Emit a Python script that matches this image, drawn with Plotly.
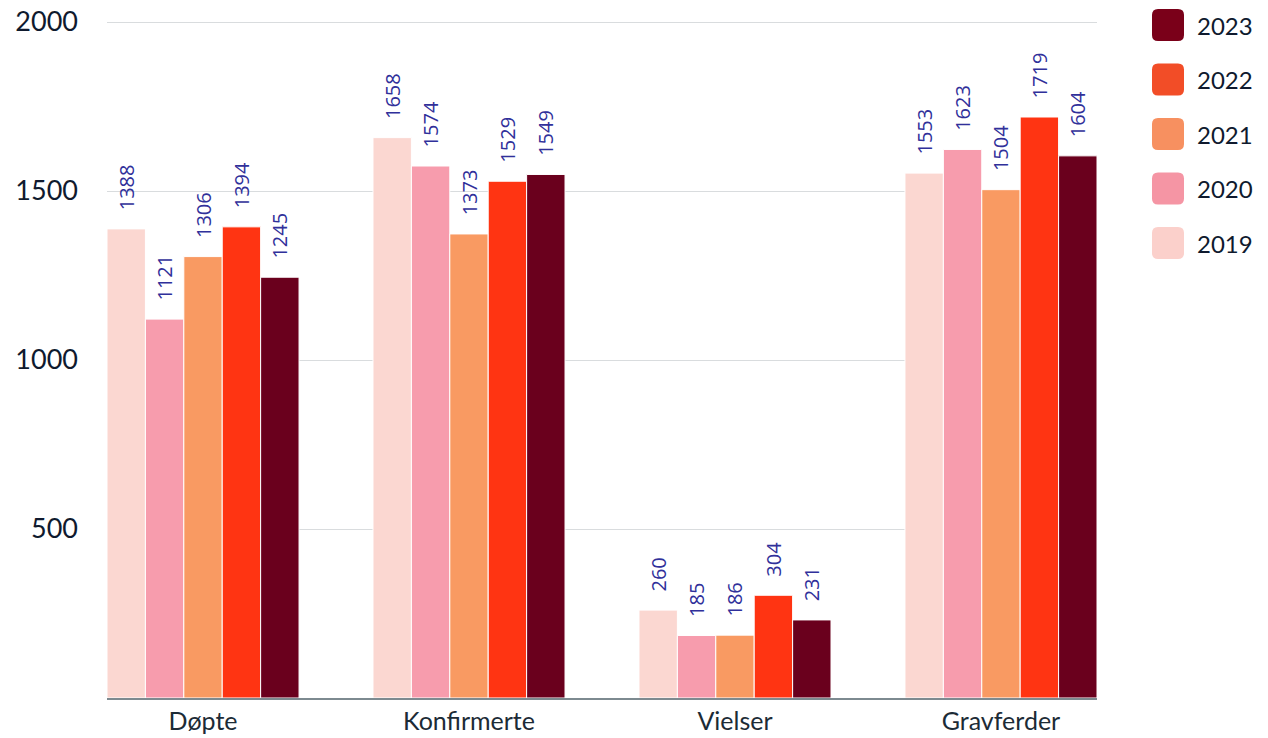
import plotly.graph_objects as go

categories = ["Døpte", "Konfirmerte", "Vielser", "Gravferder"]
years = ["2019", "2020", "2021", "2022", "2023"]
v2019 = [1388, 1658, 260, 1553]
v2020 = [1121, 1574, 185, 1623]
v2021 = [1306, 1373, 186, 1504]
v2022 = [1394, 1529, 304, 1719]
v2023 = [1245, 1549, 231, 1604]
series = [v2019, v2020, v2021, v2022, v2023]
bar_colors = ["#fbd7d1", "#f79cad", "#f99a62", "#ff3412", "#6a001d"]
legend_colors = ["#fbd0cb", "#f595a4", "#f79060", "#f24d27", "#7a0019"]

PAD = "\u00a0" * 3

fig = go.Figure()
for y, vals, c in zip(years, series, bar_colors):
    fig.add_trace(go.Bar(
        x=categories, y=vals, name=y, marker=dict(color=c, line=dict(color="#ffffff", width=1)),
        text=[PAD + str(v) for v in vals], textposition="outside", textangle=-90,
        constraintext="none",
        textfont=dict(family="Open Sans", size=20, color="#30309a"),
        cliponaxis=False, showlegend=False,
    ))

# the page body has an 8px margin: figure pixel = screen pixel - OFF
OFF = 8
W, H = 1268 - OFF, 738 - OFF
PLOT_TOP = 20  # screen px; y-range extends slightly above 2000 so the 2000 grid line lands at ~22
L, R, T, B = 107 - OFF, W - (1097 - OFF), PLOT_TOP - OFF, H - (698 - OFF)
pw, ph = W - L - R, H - T - B

def px2paper(sx, sy):
    fx, fy = sx - OFF, sy - OFF
    return (fx - L) / pw, (H - B - fy) / ph

# custom legend (top = 2023)
shapes = []
annotations = []
for i, (y, c) in enumerate(zip(reversed(years), reversed(legend_colors))):
    cy = 25 + i * 54.5
    x0, x1 = 1152, 1184
    y0, y1 = cy - 16, cy + 16
    r = 6
    pts = [("M", (x0 + r, y0)), ("L", (x1 - r, y0)), ("Q", (x1, y0), (x1, y0 + r)),
           ("L", (x1, y1 - r)), ("Q", (x1, y1), (x1 - r, y1)), ("L", (x0 + r, y1)),
           ("Q", (x0, y1), (x0, y1 - r)), ("L", (x0, y0 + r)), ("Q", (x0, y0), (x0 + r, y0))]
    path = ""
    for seg in pts:
        path += seg[0] + " " + " ".join("%.5f,%.5f" % px2paper(*p) for p in seg[1:]) + " "
    path += "Z"
    shapes.append(dict(type="path", path=path, xref="paper", yref="paper", fillcolor=c, line=dict(width=0)))
    ax, ay = px2paper(1195, cy)
    annotations.append(dict(text=y, x=ax, y=ay, xref="paper", yref="paper", xanchor="left",
                            yanchor="middle", showarrow=False,
                            font=dict(family="Lato", size=24, color="#0f1a2e")))

fig.update_layout(
    width=W, height=H,
    margin=dict(l=L, r=R, t=T, b=B, autoexpand=False),
    paper_bgcolor="white", plot_bgcolor="white",
    barmode="group", bargap=0.278, bargroupgap=0.0,
    shapes=shapes, annotations=annotations,
    font=dict(family="Lato", color="#0f1a2e"),
    xaxis=dict(range=[-0.361, 3.361], showgrid=False, showline=True, linecolor="#7d8a90", linewidth=1.5,
               ticks="", automargin=False, ticklabelstandoff=0, ticklabeloverflow="allow",
               tickfont=dict(family="Lato", size=25, color="#1c2b36")),
    yaxis=dict(range=[0, 2006], tickvals=[500, 1000, 1500, 2000], showgrid=True, gridcolor="#d9dcde",
               gridwidth=1, zeroline=False, showline=False, ticks="", automargin=False,
               ticklabelstandoff=28, ticklabeloverflow="allow",
               tickfont=dict(family="Lato", size=27, color="#0f1a2e")),
)
fig.write_html("out.html")
